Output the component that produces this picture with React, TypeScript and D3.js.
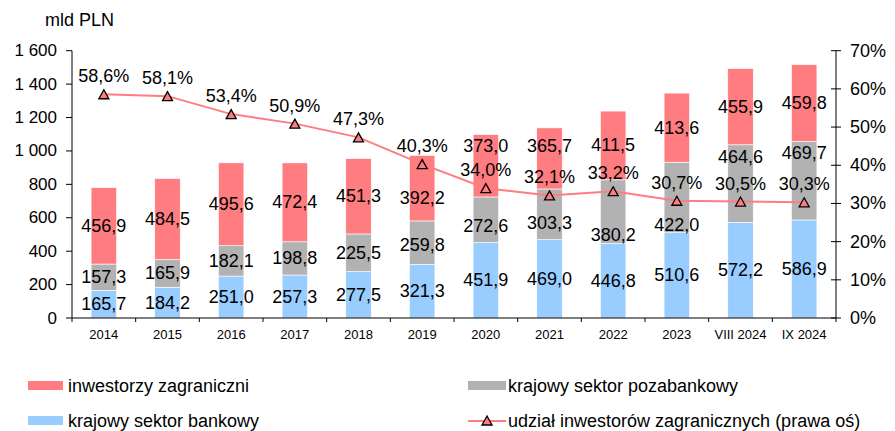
import React from "react";
import * as d3 from "d3";

const categories = ["2014","2015","2016","2017","2018","2019","2020","2021","2022","2023","VIII 2024","IX 2024"];
const bankowy = [165.7,184.2,251.0,257.3,277.5,321.3,451.9,469.0,446.8,510.6,572.2,586.9];
const pozabankowy = [157.3,165.9,182.1,198.8,225.5,259.8,272.6,303.3,380.2,422.0,464.6,469.7];
const zagraniczni = [456.9,484.5,495.6,472.4,451.3,392.2,373.0,365.7,411.5,413.6,455.9,459.8];
const udzial = [58.6,58.1,53.4,50.9,47.3,40.3,34.0,32.1,33.2,30.7,30.5,30.3];
// manual label shifts (value units) as in the original chart
const shiftPozabankowy = [0,0,0,0,0,-15,-39,-52,-142,-167,158,165];
const shiftZagraniczni = [0,0,0,0,0,-61,116,72,0,0,0,0];
const leftTicks = [0,200,400,600,800,1000,1200,1400,1600];
const rightTicks = [0,10,20,30,40,50,60,70];

const RED = "#FF7C80";
const GRAY = "#B2B2B2";
const BLUE = "#99CCFF";
const FONT = "'Liberation Sans', Arial, sans-serif";

const fmt = (v: number) => v.toFixed(1).replace(".", ",");
const fmtThousands = (v: number) => {
  const s = String(v);
  return s.length > 3 ? s.slice(0, s.length - 3) + " " + s.slice(-3) : s;
};

export default function App() {
  const W = 895, H = 431;
  const x0 = 72, x1 = 836, yTop = 50.7, yBot = 318;
  const x = d3.scaleBand<string>().domain(categories).range([x0, x1]).padding(0);
  const bw = x.bandwidth() * 0.4;
  const y = d3.scaleLinear().domain([0, 1600]).range([yBot, yTop]);
  const yR = d3.scaleLinear().domain([0, 70]).range([yBot, yTop]);
  const cx = (c: string) => (x(c) as number) + x.bandwidth() / 2;

  const line = d3.line<number>()
    .x((_, i) => cx(categories[i]))
    .y((d) => yR(d));

  const tri = (px: number, py: number, s = 5) =>
    `M${px},${py - s}L${px + s},${py + s * 0.8}L${px - s},${py + s * 0.8}Z`;

  const segs = categories.map((c, i) => {
    const b = bankowy[i], p = pozabankowy[i], z = zagraniczni[i];
    return [
      { y0: 0, y1: b, color: BLUE, label: fmt(b), lv: b / 2 },
      { y0: b, y1: b + p, color: GRAY, label: fmt(p), lv: b + p / 2 + shiftPozabankowy[i] },
      { y0: b + p, y1: b + p + z, color: RED, label: fmt(z), lv: b + p + z / 2 + shiftZagraniczni[i] },
    ];
  });

  return (
    <svg width={W} height={H} style={{ position: "absolute", left: 0, top: 0, background: "#fff" }} fontFamily={FONT}>
      <text x={45} y={20} fontSize={18} dominantBaseline="central" fill="#000">mld PLN</text>

      {/* bars */}
      {categories.map((c, i) =>
        segs[i].map((s, k) => (
          <rect key={c + k} x={cx(c) - bw / 2} y={y(s.y1)} width={bw} height={y(s.y0) - y(s.y1)}
            fill={s.color} stroke="#fff" strokeWidth={0.6} />
        ))
      )}

      {/* left axis */}
      <line x1={x0} x2={x0} y1={yTop} y2={yBot} stroke="#000" strokeWidth={1} />
      {leftTicks.map((t) => (
        <g key={"l" + t}>
          <line x1={x0 - 6} x2={x0} y1={y(t)} y2={y(t)} stroke="#000" />
          <text x={57} y={y(t)} fontSize={17} textAnchor="end" dominantBaseline="central">{fmtThousands(t)}</text>
        </g>
      ))}
      {/* right axis */}
      <line x1={x1} x2={x1} y1={yTop} y2={yBot} stroke="#000" strokeWidth={1} />
      {rightTicks.map((t) => (
        <g key={"r" + t}>
          <line x1={x1 - 5} x2={x1 + 5} y1={yR(t)} y2={yR(t)} stroke="#000" />
          <text x={850} y={yR(t)} fontSize={18} textAnchor="start" dominantBaseline="central">{t + "%"}</text>
        </g>
      ))}
      {/* x axis */}
      <line x1={x0} x2={x1} y1={yBot} y2={yBot} stroke="#000" />
      {categories.map((c, i) => (
        <g key={"x" + c}>
          <line x1={x(c) as number} x2={x(c) as number} y1={yBot} y2={yBot + 4} stroke="#000" />
          {i === categories.length - 1 && <line x1={x1} x2={x1} y1={yBot} y2={yBot + 4} stroke="#000" />}
          <text x={cx(c)} y={334} fontSize={13} textAnchor="middle" dominantBaseline="central">{c}</text>
        </g>
      ))}

      {/* line */}
      <path d={line(udzial) || ""} fill="none" stroke={RED} strokeWidth={2} />
      {udzial.map((v, i) => (
        <path key={"m" + i} d={tri(cx(categories[i]), yR(v) + 0.5)} fill={RED} stroke="#000" strokeWidth={1.3} />
      ))}

      {/* bar labels */}
      {categories.map((c, i) =>
        segs[i].map((s, k) => (
          <text key={"t" + c + k} x={cx(c)} y={y(s.lv)} fontSize={18} textAnchor="middle" dominantBaseline="central">{s.label}</text>
        ))
      )}
      {/* percent labels */}
      {udzial.map((v, i) => (
        <text key={"p" + i} x={cx(categories[i])} y={yR(v) - 18} fontSize={18} textAnchor="middle" dominantBaseline="central">{fmt(v) + "%"}</text>
      ))}

      {/* legend */}
      <rect x={28} y={381} width={35} height={9} fill={RED} />
      <text x={68} y={386} fontSize={18} dominantBaseline="central">inwestorzy zagraniczni</text>
      <rect x={28} y={416} width={35} height={9} fill={BLUE} />
      <text x={68} y={421} fontSize={18} dominantBaseline="central">krajowy sektor bankowy</text>
      <rect x={468} y={381} width={38} height={9} fill={GRAY} />
      <text x={508} y={386} fontSize={18} dominantBaseline="central">krajowy sektor pozabankowy</text>
      <line x1={468} x2={506} y1={421} y2={421} stroke={RED} strokeWidth={2} />
      <path d={tri(487, 421)} fill={RED} stroke="#000" strokeWidth={1.3} />
      <text x={508} y={421} fontSize={18} dominantBaseline="central">udział inwestorów zagranicznych (prawa oś)</text>
    </svg>
  );
}
